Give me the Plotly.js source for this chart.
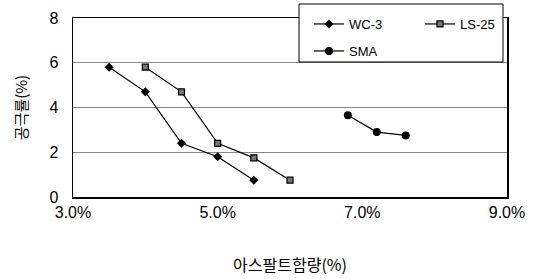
<!DOCTYPE html>
<html>
<head>
<meta charset="utf-8">
<script src="https://cdn.plot.ly/plotly-3.0.1.min.js"></script>
<style>html,body{margin:0;padding:0;background:#fff;}#chart{width:539px;height:279px;}</style>
</head>
<body>
<div id="chart"></div>
<script>
const wcX = [3.5, 4.0, 4.5, 5.0, 5.5];
const wcY = [5.8, 4.7, 2.4, 1.8, 0.75];
const lsX = [4.0, 4.5, 5.0, 5.5, 6.0];
const lsY = [5.8, 4.7, 2.4, 1.75, 0.75];
const smaX = [6.8, 7.2, 7.6];
const smaY = [3.65, 2.9, 2.75];
const seriesNames = ['WC-3', 'LS-25', 'SMA'];
const xTickVals = [3, 5, 7, 9];
const xTickText = ['3.0%', '5.0%', '7.0%', '9.0%'];
const yTickVals = [0, 2, 4, 6, 8];
const xTitle = '아스팔트함량(%)';
const yTitle = '공극률(%)';

const font = 'Arial, "Liberation Sans", "Noto Sans CJK KR", sans-serif';
const kfont = '"Noto Sans CJK KR", sans-serif';
const traces = [
  {x: wcX, y: wcY, name: seriesNames[0], legend: 'legend', mode: 'lines+markers',
   line: {color: '#000', width: 1.2},
   marker: {symbol: 'diamond', size: 7, color: '#000'}},
  {x: lsX, y: lsY, name: seriesNames[1], legend: 'legend', mode: 'lines+markers',
   line: {color: '#000', width: 1.2},
   marker: {symbol: 'square', size: 6, color: '#777', line: {color: '#000', width: 1.2}}},
  {x: smaX, y: smaY, name: seriesNames[2], legend: 'legend2', mode: 'lines+markers',
   line: {color: '#000', width: 1.2},
   marker: {symbol: 'circle', size: 8, color: '#000'}}
];
const legendBase = {
  orientation: 'h', xref: 'container', yref: 'container',
  xanchor: 'left', yanchor: 'top',
  bgcolor: 'rgba(0,0,0,0)', borderwidth: 0,
  font: {family: font, size: 13, color: '#000'},
  entrywidth: 66, entrywidthmode: 'pixels', itemwidth: 30
};
const layout = {
  width: 539, height: 279,
  margin: {l: 73, r: 32, t: 18, b: 82, autoexpand: false},
  paper_bgcolor: '#fff', plot_bgcolor: '#fff',
  font: {family: font, color: '#000', size: 14},
  showlegend: true,
  legend: Object.assign({}, legendBase, {x: 309 / 539, y: 1 - 9 / 279}),
  legend2: Object.assign({}, legendBase, {x: 309 / 539, y: 1 - 36 / 279}),
  shapes: [{
    type: 'rect', xref: 'paper', yref: 'paper', layer: 'above',
    x0: (299 - 73) / 434, x1: (503 - 73) / 434,
    y0: (197 - 62) / 179, y1: (197 - 4) / 179,
    fillcolor: '#fff', line: {color: '#000', width: 1}
  }],
  xaxis: {
    range: [3, 9], tickvals: xTickVals, ticktext: xTickText,
    showgrid: false, zeroline: false,
    showline: true, mirror: true, linecolor: '#000', linewidth: 1.5,
    ticks: '', ticklen: 0,
    tickfont: {family: font, size: 16, color: '#000'},
    title: {text: xTitle, font: {family: kfont, size: 16, color: '#000'}, standoff: 40}
  },
  yaxis: {
    range: [0, 8], tickvals: yTickVals,
    showgrid: true, gridcolor: '#888', gridwidth: 1, zeroline: false,
    showline: true, mirror: true, linecolor: '#000', linewidth: 1.5,
    ticks: '', ticklen: 0, ticklabelstandoff: 10,
    tickfont: {family: font, size: 16, color: '#000'},
    title: {text: yTitle, font: {family: kfont, size: 15, color: '#000'}, standoff: 18}
  }
};
Plotly.newPlot('chart', traces, layout, {displayModeBar: false, staticPlot: true});
</script>
</body>
</html>
